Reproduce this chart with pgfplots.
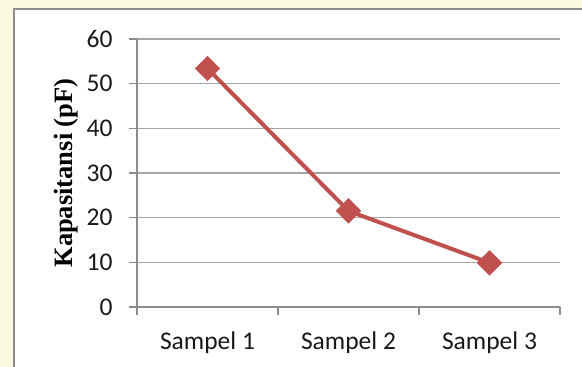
\documentclass[border=0pt]{standalone}
\usepackage{pgfplots}
\pgfplotsset{compat=1.18}
\usepackage{fontspec}
\setmainfont{Carlito}
\newfontfamily\timesfont{Liberation Serif}
\definecolor{cream}{HTML}{FBF8E2}
\definecolor{excelred}{HTML}{C0504D}
\definecolor{axgray}{HTML}{8C8C8C}
\definecolor{gridgray}{HTML}{A6A6A6}
\begin{document}
\begin{tikzpicture}
\path[use as bounding box] (0pt,0pt) rectangle (582pt,367pt);
\fill[cream] (0pt,0pt) rectangle (582pt,367pt);
\begin{scope}
\clip (0pt,0pt) rectangle (582pt,367pt);
\fill[white] (14pt,-10pt) rectangle (600pt,358pt);
\draw[axgray, line width=2pt] (14pt,-10pt) rectangle (600pt,358pt);
\end{scope}
\begin{axis}[
  at={(137pt,60pt)}, anchor=origin,
  scale only axis, width=423pt, height=268pt,
  xmin=0.5, xmax=3.5, ymin=0, ymax=60,
  axis lines*=left,
  axis line style={axgray, line width=1.2pt},
  xtick={0.5,1.5,2.5,3.5},
  xticklabels={Sampel 1,Sampel 2,Sampel 3},
  x tick label as interval,
  ytick={0,10,...,60},
  tick align=outside,
  major tick length=8pt,
  tick style={axgray, line width=1.2pt},
  ymajorgrids,
  grid style={gridgray, line width=1.2pt},
  /pgf/number format/assume math mode=true,
  tick label style={font=\fontsize{25.5}{28}\selectfont, text=black!90},
  yticklabel style={xshift=-13pt},
  xticklabel style={yshift=-13pt},
  ylabel={\timesfont\bfseries Kapasitansi (pF)},
  ylabel style={font=\fontsize{26.5}{30}\selectfont, at={(axis description cs:-0.168,0.5)}, anchor=center},
  clip=false,
]
\addplot[excelred, line width=4pt, mark=square*, mark size=7pt, mark options={rotate=45, solid}]
coordinates {(1,53.4) (2,21.5) (3,9.9)};
\end{axis}
\end{tikzpicture}
\end{document}
